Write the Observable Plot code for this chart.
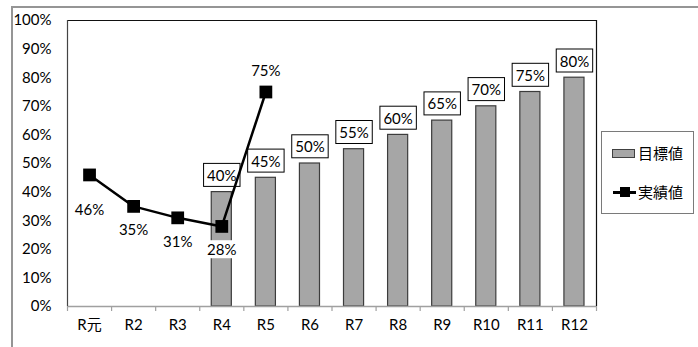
<!DOCTYPE html>
<html>
<head>
<meta charset="utf-8">
<script src="https://cdn.jsdelivr.net/npm/d3@7"></script>
<script src="https://cdn.jsdelivr.net/npm/@observablehq/plot@0.6"></script>
<style>
  html, body { margin: 0; padding: 0; background: #fff; }
  #chart { position: relative; width: 698px; height: 347px; overflow: hidden; font-family: Lato, "Noto Sans CJK JP", sans-serif; }
  #chart svg { position: absolute; left: 0; top: 0; }
  #outer { position: absolute; left: 11px; top: 6px; width: 760px; height: 400px; border-top: 2px solid #959595; border-left: 2px solid #959595; box-sizing: border-box; }
  #legend { position: absolute; left: 601px; top: 131px; width: 93px; height: 83px; border: 1px solid #7a7a7a; background: #fff; box-sizing: border-box; }
  .lg-item { position: absolute; left: 0; height: 20px; font-family: "Noto Sans CJK JP", sans-serif; font-size: 15px; line-height: 20px; color: #000; }
  .lg-label { position: absolute; left: 36px; top: 0; white-space: nowrap; }
</style>
</head>
<body>
<div id="chart">
  <div id="outer"></div>
  <div id="legend">
    <div class="lg-item" style="top:11px;width:92px">
      <div style="position:absolute;left:10px;top:6px;width:21px;height:7px;background:#a6a6a6;border:1px solid #404040"></div>
      <span class="lg-label">目標値</span>
    </div>
    <div class="lg-item" style="top:50px;width:92px">
      <div style="position:absolute;left:11px;top:9px;width:23px;height:2.5px;background:#000"></div>
      <div style="position:absolute;left:18px;top:5px;width:10px;height:10px;background:#000"></div>
      <span class="lg-label">実績値</span>
    </div>
  </div>
</div>
<script>
const years = ["R元", "R2", "R3", "R4", "R5", "R6", "R7", "R8", "R9", "R10", "R11", "R12"];
const targetYears = ["R4", "R5", "R6", "R7", "R8", "R9", "R10", "R11", "R12"];
const targetValues = [40, 45, 50, 55, 60, 65, 70, 75, 80];
const actualYears = ["R元", "R2", "R3", "R4", "R5"];
const actualValues = [46, 35, 31, 28, 75];
const yTicks = [0, 10, 20, 30, 40, 50, 60, 70, 80, 90, 100];

const targets = targetYears.map((year, i) => ({year, value: targetValues[i]}));
const actuals = actualYears.map((year, i) => ({year, value: actualValues[i], i}));

const W = 698, H = 347, ML = 67, MR = 102, MT = 20, MB = 41;
const step = (W - ML - MR) / years.length;
const font = 'Lato, "Noto Sans CJK JP", sans-serif';
const fs = 15;

const plot = Plot.plot({
  width: W, height: H,
  marginLeft: ML, marginRight: MR, marginTop: MT, marginBottom: MB,
  style: {fontFamily: font, fontSize: fs + "px", color: "#000", background: "transparent", overflow: "visible"},
  x: {domain: years, padding: 0, round: false, label: null},
  y: {domain: [0, 100], label: null},
  marks: [
    Plot.barY(targets, {x: "year", y: "value", fill: "#a6a6a6", stroke: "#3c3c3c", strokeWidth: 1.2, insetLeft: 12, insetRight: 12}),
    // frame
    Plot.ruleY([100], {stroke: "#111", strokeWidth: 1}),
    Plot.ruleY([0], {stroke: "#a0a0a0", strokeWidth: 1.5}),
    Plot.ruleX([years[0]], {x: d => d, dx: -step / 2, stroke: "#444", strokeWidth: 1.2}),
    Plot.ruleX([years[years.length - 1]], {x: d => d, dx: step / 2, stroke: "#111", strokeWidth: 1.2}),
    // category edge ticks
    Plot.ruleX(years, {x: d => d, dx: -step / 2, y1: 0, y2: 0, insetBottom: -5, stroke: "#a0a0a0", strokeWidth: 1.2}),
    Plot.ruleX([years[years.length - 1]], {x: d => d, dx: step / 2, y1: 0, y2: 0, insetBottom: -5, stroke: "#a0a0a0", strokeWidth: 1.2}),
    Plot.axisX({tickSize: 0, tickPadding: 13, fontSize: fs, fill: "#000"}),
    Plot.axisY({ticks: yTicks, tickSize: 0, tickPadding: 16, tickFormat: d => d + "%", fontSize: fs, fill: "#000"}),
    // bar labels
    Plot.text(targets, {x: "year", y: "value", text: d => d.value + "%", dy: -16, fontSize: fs, fill: "#000", lineAnchor: "middle", ariaDescription: "boxlabels"}),
    // actual line
    Plot.line(actuals, {x: "year", y: "value", stroke: "#000", strokeWidth: 2.5}),
    Plot.dot(actuals, {x: "year", y: "value", symbol: "square", r: 7.2, fill: "#000", stroke: "none"}),
    Plot.text(actuals.filter(d => d.i === 0), {x: "year", y: "value", text: d => d.value + "%", dy: 35, fontSize: fs, fill: "#000", lineAnchor: "middle", ariaDescription: "bglabels"}),
    Plot.text(actuals.filter(d => d.i > 0 && d.i < 4), {x: "year", y: "value", text: d => d.value + "%", dy: 24, fontSize: fs, fill: "#000", lineAnchor: "middle", ariaDescription: "bglabels"}),
    Plot.text(actuals.filter(d => d.i === 4), {x: "year", y: "value", text: d => d.value + "%", dy: -21, fontSize: fs, fill: "#000", lineAnchor: "middle", ariaDescription: "bglabels"})
  ]
});

document.getElementById("chart").insertBefore(plot, document.getElementById("legend"));

function addBoxes(label, padX, h, stroke) {
  plot.querySelectorAll(`g[aria-description="${label}"] text`).forEach(t => {
    const bb = t.getBBox();
    const r = document.createElementNS("http://www.w3.org/2000/svg", "rect");
    r.setAttribute("x", bb.x - padX);
    r.setAttribute("y", bb.y + bb.height / 2 - h / 2);
    r.setAttribute("width", bb.width + 2 * padX);
    r.setAttribute("height", h);
    r.setAttribute("fill", "#fff");
    r.setAttribute("stroke", stroke);
    r.setAttribute("stroke-width", 1);
    const tr = t.getAttribute("transform");
    if (tr) r.setAttribute("transform", tr);
    t.parentNode.insertBefore(r, t);
  });
}
addBoxes("boxlabels", 3.5, 23, "#000");
addBoxes("bglabels", 2, 18, "none");
</script>
</body>
</html>
